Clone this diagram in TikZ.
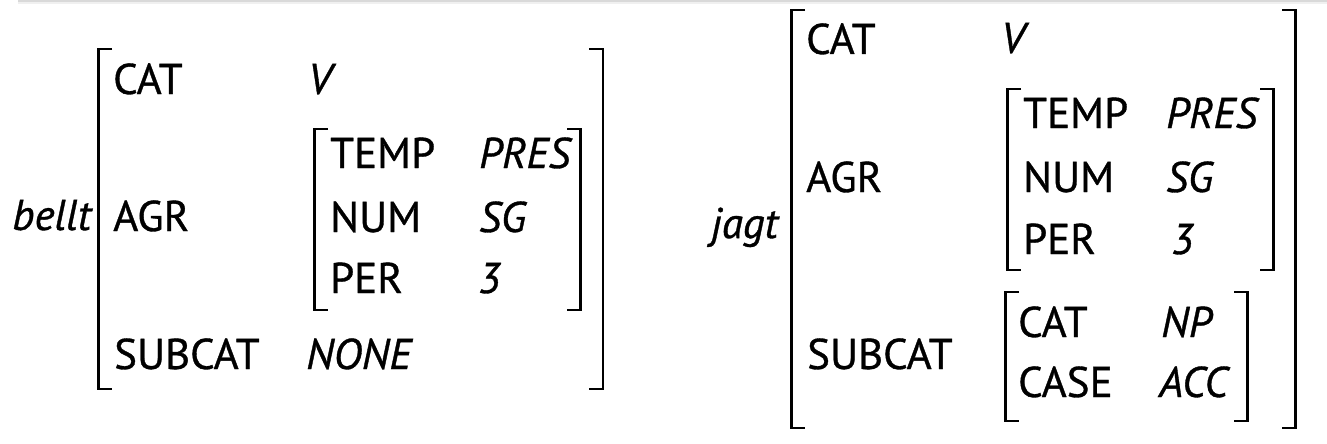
\documentclass[tikz,border=0pt]{standalone}
\usepackage{fontspec}
\setmainfont[FakeBold=0.8]{PT Sans}
\newcommand{\fsz}{\fontsize{43}{50}\selectfont}
\tikzset{
  attr/.style={anchor=base west, inner sep=0pt, font=\fsz},
  val/.style={anchor=base west, inner sep=0pt, font=\fsz\itshape},
  brk/.style={line width=2.8pt, line join=miter},
}
\begin{document}
\begin{tikzpicture}[x=1pt,y=-1pt]
\useasboundingbox (0,0) rectangle (1327,444);
\fill[white] (0,0) rectangle (1327,444);
% top strip
\fill[black!15] (18,0) rectangle (1327,2);
\fill[black!6] (18,2) rectangle (1327,4);

% ---------- bellt ----------
\node[val] (bellt) at (12,230) {bellt};
\draw[brk] (112,49) -- (98.5,49) -- (98.5,389) -- (112,389);
\draw[brk] (589,49) -- (603,49) -- (603,389) -- (589,389);
\node[attr] (b-cat) at (113,94) {CAT};
\node[val] (b-v) at (308,94) {V};
\node[attr] (b-agr) at (113,231) {AGR};
\draw[brk] (328,129) -- (314.5,129) -- (314.5,310) -- (328,310);
\draw[brk] (567,129) -- (580.5,129) -- (580.5,310) -- (567,310);
\node[attr] (b-temp) at (330,168) {TEMP};
\node[val] (b-pres) at (479,168) {PRES};
\node[attr] (b-num) at (330,232) {NUM};
\node[val] (b-sg) at (479,232) {SG};
\node[attr] (b-per) at (330,293) {PER};
\node[val] (b-3) at (478,293) {3};
\node[attr] (b-subcat) at (114,369) {SUBCAT};
\node[val] (b-none) at (306,369) {NONE};

% ---------- jagt ----------
\node[val] (jagt) at (711,238) {jagt};
\draw[brk] (805,10) -- (791.5,10) -- (791.5,428) -- (805,428);
\draw[brk] (1282,10) -- (1295.5,10) -- (1295.5,428) -- (1282,428);
\node[attr] (j-cat) at (806,54) {CAT};
\node[val] (j-v) at (1001,53) {V};
\node[attr] (j-agr) at (806,192) {AGR};
\draw[brk] (1021,89) -- (1007.5,89) -- (1007.5,270) -- (1021,270);
\draw[brk] (1260,89) -- (1273.5,89) -- (1273.5,270) -- (1260,270);
\node[attr] (j-temp) at (1023,128) {TEMP};
\node[val] (j-pres) at (1166,128) {PRES};
\node[attr] (j-num) at (1023,192) {NUM};
\node[val] (j-sg) at (1166,192) {SG};
\node[attr] (j-per) at (1023,254) {PER};
\node[val] (j-3) at (1171,254) {3};
\node[attr] (j-subcat) at (807,369) {SUBCAT};
\draw[brk] (1019,292) -- (1005.5,292) -- (1005.5,421) -- (1019,421);
\draw[brk] (1234,292) -- (1247.5,292) -- (1247.5,421) -- (1234,421);
\node[attr] (j-scat) at (1018,337) {CAT};
\node[val] (j-np) at (1161,337) {NP};
\node[attr] (j-case) at (1018,397) {CASE};
\node[val] (j-acc) at (1159,397) {ACC};
\end{tikzpicture}
\end{document}
